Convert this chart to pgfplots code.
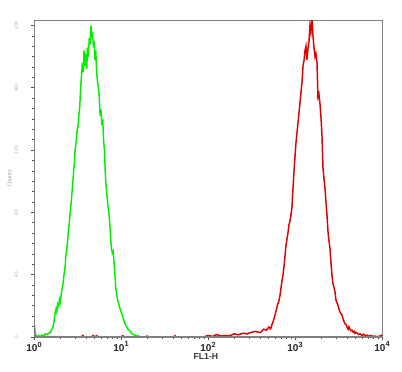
\documentclass[border=0pt]{standalone}
\usepackage{pgfplots}
\pgfplotsset{compat=1.18}
\usepackage{fontspec}
\setmainfont{Liberation Sans}
\definecolor{fgreen}{RGB}{0,240,0}
\definecolor{fred}{RGB}{220,0,0}
\definecolor{axgray}{RGB}{128,128,128}
\newcommand{\tl}[1]{\textbf{10}\raisebox{0.9ex}{\fontsize{5.5}{6}\selectfont\textbf{#1}}}
\begin{document}
\begin{tikzpicture}
\useasboundingbox (0,0) rectangle (301.5pt,-278.25pt);
\begin{axis}[
  at={(25.5pt,-252.75pt)}, anchor=south west,
  scale only axis, width=261pt, height=237.75pt,
  xmin=0, xmax=4, ymin=0, ymax=101.8,
  xtick={0,1,2,3,4},
  xticklabels={\tl{0},\tl{1},\tl{2},\tl{3},\tl{4}},
  minor xtick={0.301,0.477,0.602,0.699,0.778,0.845,0.903,0.954,
               1.301,1.477,1.602,1.699,1.778,1.845,1.903,1.954,
               2.301,2.477,2.602,2.699,2.778,2.845,2.903,2.954,
               3.301,3.477,3.602,3.699,3.778,3.845,3.903,3.954},
  ytick={0,20,40,60,80,100},
  yticklabels={0,40,80,120,160,200},
  minor y tick num=5,
  tick pos=left, tick align=outside,
  major tick length=2.5pt, minor tick length=1.3pt,
  every tick/.style={black!70, line width=0.6pt},
  xticklabel style={font=\fontsize{7.5}{8}\selectfont, text=black!85, inner sep=1pt},
  yticklabel style={rotate=90, anchor=south, font=\fontsize{3.5}{4}\selectfont, text=gray!70},
  yticklabel shift=6pt,
  axis line style={axgray, line width=0.7pt},
  xlabel={\textbf{FL1-H}},
  xlabel style={at={(axis description cs:0.494,-0.06)}, anchor=center, font=\fontsize{6.5}{7}\selectfont, text=black!80},
  ylabel={Counts},
  ylabel style={at={(axis description cs:-0.07,0.5)}, anchor=center, rotate=0, font=\fontsize{4}{5}\selectfont, text=gray!80},
]
\addplot[fgreen, line width=1.1pt] coordinates {
(0.000,0) (0.005,4) (0.012,2) (0.020,0.5) (0.035,0) (0.05,0.5) (0.07,0) (0.09,0.6) (0.11,0.3)
(0.13,1.0) (0.15,0.8) (0.17,1.2) (0.19,1.5) (0.205,2.5) (0.218,3.2) (0.23,5) (0.242,7.5)
(0.253,9) (0.262,8) (0.272,10.5) (0.282,10) (0.292,12) (0.30,11) (0.31,13) (0.322,15.5)
(0.333,17) (0.345,20) (0.356,22) (0.368,26.5) (0.378,28.5) (0.39,32) (0.40,35) (0.41,38)
(0.42,41) (0.43,44) (0.44,47.5) (0.452,52) (0.462,55) (0.472,60) (0.482,62) (0.494,66)
(0.505,67.5) (0.515,71) (0.526,74) (0.536,80) (0.546,84) (0.556,88) (0.566,85) (0.575,92)
(0.586,87) (0.596,91) (0.606,86) (0.615,93) (0.625,90) (0.635,96) (0.645,94) (0.655,100)
(0.665,96) (0.673,98) (0.683,93) (0.692,95) (0.700,89) (0.710,92) (0.72,85) (0.73,82)
(0.74,80) (0.75,77) (0.76,71) (0.77,73) (0.78,68) (0.79,70) (0.80,63) (0.81,60) (0.82,52)
(0.83,48) (0.84,45) (0.85,42) (0.86,40) (0.87,37) (0.88,32) (0.89,28.5) (0.90,27) (0.91,27.5)
(0.92,24) (0.93,20) (0.94,15.5) (0.95,14) (0.96,12) (0.97,11) (0.98,10) (0.99,9) (1.00,8)
(1.01,7.5) (1.02,6.5) (1.03,5.5) (1.04,5) (1.05,4) (1.06,3.5) (1.07,3) (1.08,2.5) (1.10,2)
(1.12,1.2) (1.14,0.8) (1.16,0.6) (1.18,0.3) (1.20,0.4) (1.22,0) (1.25,0)
};
\addplot[fred, line width=1.1pt] coordinates {
(0.00,0.3) (0.05,0) (0.55,0) (0.56,0.5) (0.58,0) (0.66,0) (0.68,0.5) (0.70,0) (0.72,0.4) (0.74,0)
(1.0,0) (1.02,0.4) (1.04,0) (1.28,0) (1.30,0.3) (1.32,0) (1.6,0) (1.62,0.4) (1.64,0)
(1.95,0) (2.0,0.5) (2.05,0.2) (2.1,0.8) (2.15,0.3) (2.2,0.5) (2.25,0.4) (2.3,1) (2.35,0.7)
(2.4,1.2) (2.45,1) (2.5,1.5) (2.55,1.8) (2.6,1.4) (2.64,2.5) (2.67,2.2) (2.70,3.2) (2.72,2.6)
(2.735,4) (2.747,4.8) (2.76,6) (2.775,7.5) (2.79,9.3) (2.80,10.5) (2.81,11) (2.828,13.4)
(2.84,16) (2.85,18) (2.862,20) (2.875,23) (2.885,26) (2.895,29) (2.905,31) (2.92,33.6)
(2.93,36) (2.94,37) (2.953,39) (2.966,42) (2.977,47.7) (2.988,53) (3.0,58) (3.01,62)
(3.023,65.6) (3.035,69) (3.046,72) (3.06,76) (3.07,79) (3.08,81.6) (3.092,87) (3.105,89)
(3.115,92) (3.126,93.4) (3.137,89) (3.149,92.5) (3.161,95) (3.172,100) (3.183,98) (3.195,103)
(3.207,96.6) (3.218,93) (3.23,90) (3.24,91) (3.253,88) (3.264,77) (3.275,78) (3.287,75)
(3.3,70) (3.31,64.6) (3.322,54) (3.333,51) (3.345,47.7) (3.357,43) (3.368,39) (3.38,33.6)
(3.39,31) (3.402,28.5) (3.413,24) (3.425,19.8) (3.437,17) (3.448,16) (3.46,14.4) (3.47,12)
(3.482,11) (3.494,10.2) (3.505,9) (3.517,8) (3.528,7.5) (3.54,7) (3.55,6) (3.563,5)
(3.575,4.2) (3.587,4) (3.598,3.2) (3.61,2.5) (3.62,3.3) (3.632,2.4) (3.644,2.0) (3.655,2.2)
(3.67,1.5) (3.68,1.8) (3.69,1.2) (3.70,1.5) (3.713,1.3) (3.73,0.8) (3.75,1.0) (3.77,0.5)
(3.79,0.9) (3.81,0.4) (3.828,0.6) (3.85,0.2) (3.87,0.5) (3.9,0.2) (3.92,0.3) (3.943,0)
(3.96,0.2) (3.98,0.4) (4.0,0.6)
};
\draw[axgray, line width=1.5pt] (rel axis cs:0,1) -- (rel axis cs:0,0) -- (rel axis cs:1,0);
\end{axis}
\end{tikzpicture}
\end{document}
